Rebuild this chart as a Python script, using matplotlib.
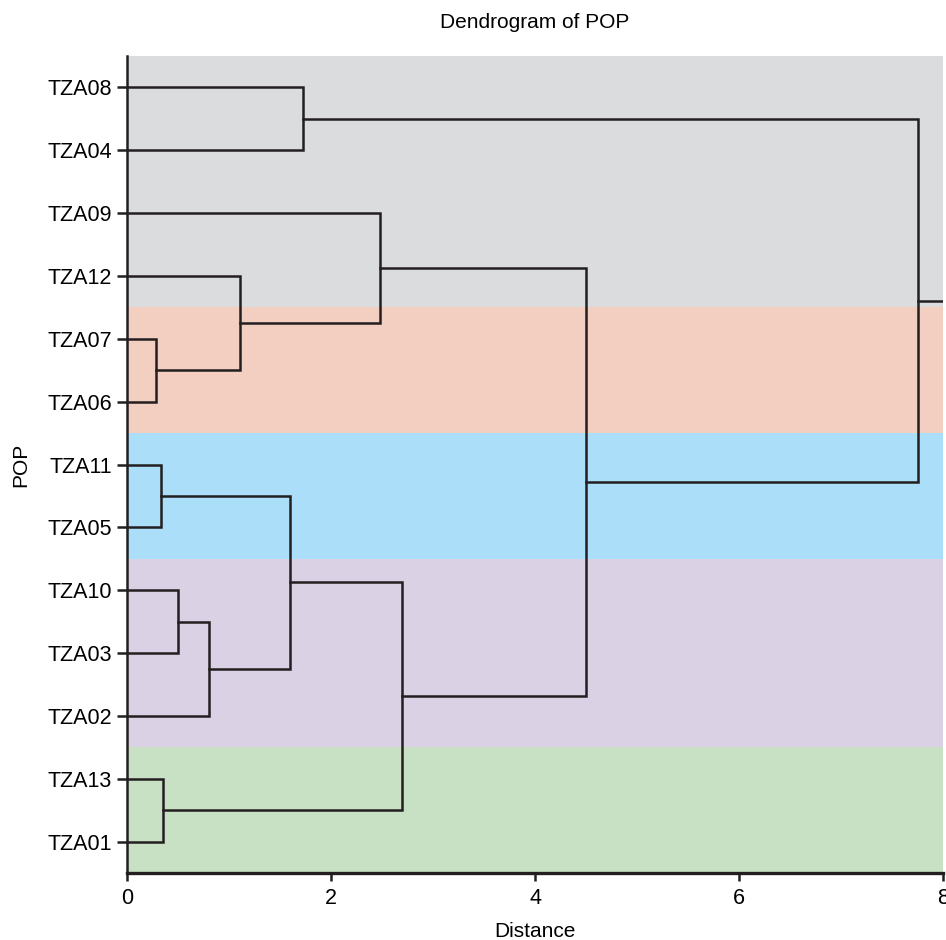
import matplotlib
matplotlib.use("Agg")
import matplotlib.pyplot as plt

plt.rcParams['font.family'] = ['Liberation Sans', 'DejaVu Sans']

# leaves, top to bottom
leaves = ['TZA08', 'TZA04', 'TZA09', 'TZA12', 'TZA07', 'TZA06',
          'TZA11', 'TZA05', 'TZA10', 'TZA03', 'TZA02', 'TZA13', 'TZA01']

# merges: (left, right, distance); ints >= 13 refer to earlier merges
merges = [
    ('TZA07', 'TZA06', 0.284),   # 13
    ('TZA11', 'TZA05', 0.333),   # 14
    ('TZA13', 'TZA01', 0.353),   # 15
    ('TZA10', 'TZA03', 0.50),    # 16
    (16, 'TZA02', 0.80),         # 17
    (13, 'TZA12', 1.108),        # 18
    (14, 17, 1.60),              # 19
    ('TZA08', 'TZA04', 1.725),   # 20
    ('TZA09', 18, 2.48),         # 21
    (19, 15, 2.70),              # 22
    (21, 22, 4.50),              # 23
    (20, 23, 7.75),              # 24
]

# cluster bands: (first leaf, last leaf, colour)
bands = [
    ('TZA08', 'TZA12', '#DBDCDE'),
    ('TZA07', 'TZA06', '#F3CFC2'),
    ('TZA11', 'TZA05', '#ABDFF9'),
    ('TZA10', 'TZA02', '#DAD2E4'),
    ('TZA13', 'TZA01', '#C8E0C3'),
]

line_col = '#231F20'
xmax = 8

fig = plt.figure(figsize=(9.46, 9.40), dpi=100)
ax = fig.add_axes([127 / 946, 1 - 873 / 940, (943 - 127) / 946, (873 - 56) / 940])

pos = {name: 5 + 10 * i for i, name in enumerate(leaves)}
height = {name: 0.0 for name in leaves}

for b0, b1, c in bands:
    ax.axhspan(pos[b0] - 5, pos[b1] + 5, color=c, lw=0, zorder=0)

for k, (a, b, d) in enumerate(merges):
    node = len(leaves) + k
    ya, yb = pos[a], pos[b]
    ax.plot([height[a], d, d, height[b]], [ya, ya, yb, yb],
            color=line_col, lw=1.8, solid_joinstyle='miter', zorder=2)
    pos[node] = (ya + yb) / 2
    height[node] = d

root = len(leaves) + len(merges) - 1
ax.plot([height[root], xmax], [pos[root], pos[root]], color=line_col, lw=1.8, zorder=2)

ax.set_xlim(0, xmax)
ax.set_ylim(10 * len(leaves), 0)
ax.set_yticks([pos[n] for n in leaves])
ax.set_yticklabels(leaves)
ax.set_xticks([0, 2, 4, 6, 8])

ax.spines['top'].set_visible(False)
ax.spines['right'].set_visible(False)
ax.spines['left'].set_color(line_col)
ax.spines['left'].set_linewidth(1.8)
ax.spines['bottom'].set_color(line_col)
ax.spines['bottom'].set_linewidth(2.4)
ax.tick_params(axis='y', length=7, width=1.8, color=line_col, labelsize=15.5, pad=4)
ax.tick_params(axis='x', length=6, width=1.8, color=line_col, labelsize=15.5, pad=5)

ax.set_xlabel('Distance', fontsize=15, labelpad=9)
ax.set_ylabel('POP', fontsize=15, labelpad=12)
ax.set_title('Dendrogram of POP', fontsize=15, pad=20)

fig.savefig('out.png', dpi=100)
